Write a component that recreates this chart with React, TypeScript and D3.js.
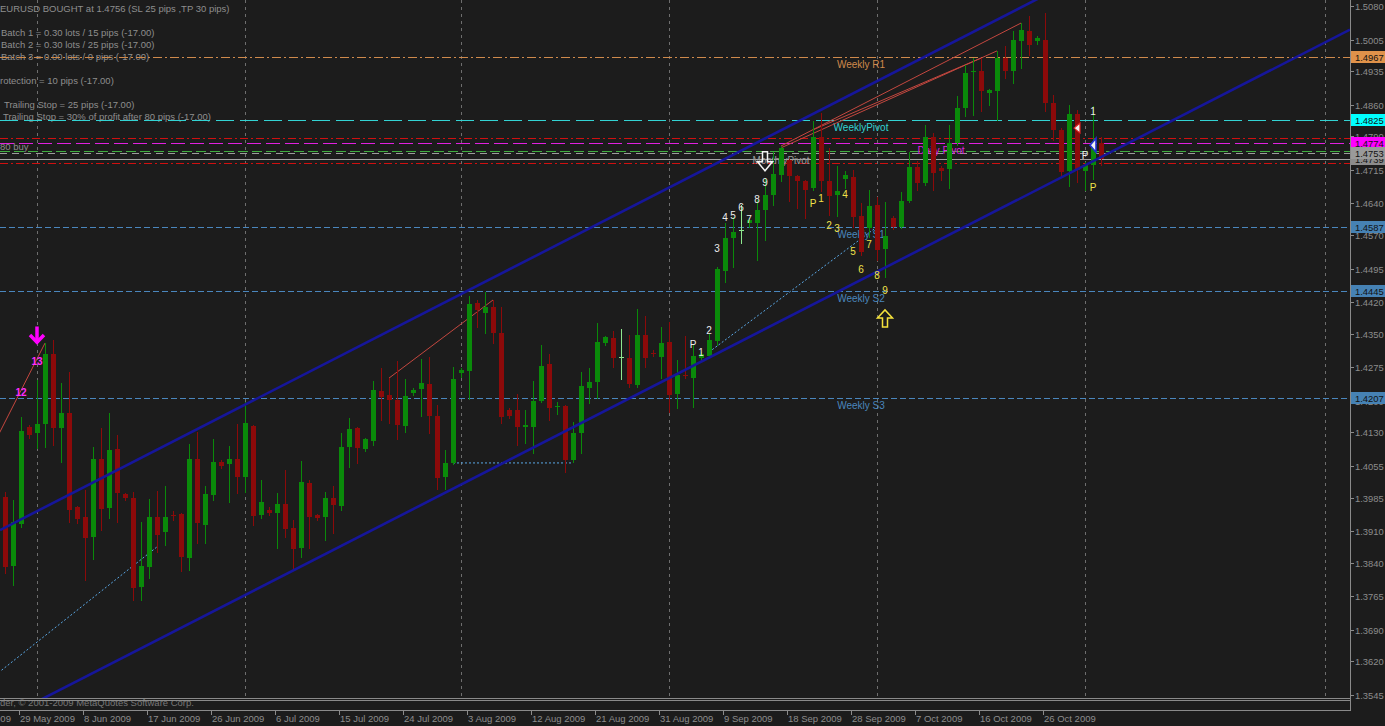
import React from "react";
import * as d3 from "d3";

// ---------- DATA ----------
const FIRST_BAR_DATE = "2009-05-27"; // bar 0 (Sunday bars included, Saturdays skipped)

const open = [
  1.3986, 1.3832, 1.3926, 1.4142, 1.4129, 1.4149, 1.4305, 1.4140, 1.4173, 1.3964,
  1.3942, 1.3897, 1.4071, 1.3962, 1.4093, 1.3993, 1.3984, 1.3786, 1.3830, 1.3942,
  1.3908, 1.3947, 1.3948, 1.3850, 1.4071, 1.3924, 1.3991, 1.4064, 1.4060, 1.4071,
  1.4031, 1.4144, 1.3946, 1.3957, 1.3950, 1.3970, 1.3917, 1.3872, 1.4017, 1.3946,
  1.3942, 1.3984, 1.3966, 1.4098, 1.4140, 1.4093, 1.4111, 1.4222, 1.4213, 1.4202,
  1.4144, 1.4218, 1.4227, 1.4238, 1.4167, 1.4031, 1.4062, 1.4262, 1.4267, 1.4418,
  1.4396, 1.4409, 1.4352, 1.4180, 1.4180, 1.4142, 1.4142, 1.4200, 1.4282, 1.4186,
  1.4189, 1.4068, 1.4129, 1.4229, 1.4242, 1.4329, 1.4340, 1.4297, 1.4296, 1.4236,
  1.4347, 1.4308, 1.4298, 1.4331, 1.4216, 1.4258, 1.4251, 1.4296, 1.4300, 1.4334,
  1.4490, 1.4563, 1.4578, 1.4597, 1.4597, 1.4626, 1.4659, 1.4704, 1.4737, 1.4702,
  1.4690, 1.4675, 1.4788, 1.4690, 1.4659, 1.4695, 1.4699, 1.4612, 1.4585, 1.4637,
  1.4539, 1.4608, 1.4588, 1.4646, 1.4721, 1.4686, 1.4788, 1.4719, 1.4717, 1.4775,
  1.4853, 1.4933, 1.4935, 1.4886, 1.4891, 1.4964, 1.4935, 1.5002, 1.5024, 1.5002,
  1.5004, 1.4864, 1.4804, 1.4712, 1.4839, 1.4712, 1.4726, 1.4775,
];
const high = [
  1.3997, 1.3979, 1.4164, 1.4147, 1.4247, 1.4329, 1.4336, 1.4240, 1.4265, 1.3966,
  1.4002, 1.4098, 1.4140, 1.4173, 1.4124, 1.3995, 1.3997, 1.3930, 1.3982, 1.3999,
  1.4011, 1.3955, 1.3950, 1.4104, 1.4131, 1.4011, 1.4115, 1.4068, 1.4100, 1.4149,
  1.4198, 1.4146, 1.4024, 1.3964, 1.3995, 1.4046, 1.3935, 1.4066, 1.4024, 1.3948,
  1.3997, 1.4011, 1.4129, 1.4162, 1.4142, 1.4118, 1.4245, 1.4274, 1.4251, 1.4289,
  1.4249, 1.4229, 1.4294, 1.4298, 1.4191, 1.4091, 1.4276, 1.4274, 1.4434, 1.4425,
  1.4443, 1.4425, 1.4409, 1.4184, 1.4216, 1.4180, 1.4245, 1.4325, 1.4305, 1.4198,
  1.4190, 1.4153, 1.4265, 1.4274, 1.4374, 1.4345, 1.4356, 1.4360, 1.4347, 1.4405,
  1.4389, 1.4314, 1.4365, 1.4376, 1.4291, 1.4345, 1.4325, 1.4309, 1.4349, 1.4499,
  1.4597, 1.4610, 1.4637, 1.4608, 1.4648, 1.4697, 1.4755, 1.4768, 1.4740, 1.4704,
  1.4692, 1.4824, 1.4842, 1.4764, 1.4724, 1.4712, 1.4715, 1.4641, 1.4670, 1.4654,
  1.4643, 1.4612, 1.4666, 1.4755, 1.4735, 1.4815, 1.4797, 1.4724, 1.4815, 1.4880,
  1.4949, 1.4964, 1.4964, 1.4895, 1.4980, 1.4991, 1.5024, 1.5042, 1.5058, 1.5013,
  1.5064, 1.4882, 1.4808, 1.4859, 1.4848, 1.4732, 1.4857, 1.4788,
];
const low = [
  1.3817, 1.3790, 1.3919, 1.4118, 1.4095, 1.4098, 1.4102, 1.4064, 1.3930, 1.3928,
  1.3801, 1.3848, 1.3913, 1.3939, 1.3930, 1.3979, 1.3757, 1.3757, 1.3806, 1.3864,
  1.3879, 1.3935, 1.3821, 1.3823, 1.3884, 1.3884, 1.3979, 1.4051, 1.3975, 1.3995,
  1.3997, 1.3924, 1.3939, 1.3946, 1.3872, 1.3897, 1.3828, 1.3852, 1.3872, 1.3935,
  1.3890, 1.3906, 1.3957, 1.4053, 1.4062, 1.4089, 1.4102, 1.4158, 1.4151, 1.4115,
  1.4131, 1.4213, 1.4167, 1.4129, 1.4004, 1.4004, 1.4060, 1.4253, 1.4204, 1.4365,
  1.4352, 1.4329, 1.4151, 1.4162, 1.4102, 1.4106, 1.4084, 1.4198, 1.4158, 1.4171,
  1.4042, 1.4064, 1.4084, 1.4196, 1.4207, 1.4325, 1.4276, 1.4249, 1.4231, 1.4231,
  1.4276, 1.4300, 1.4251, 1.4176, 1.4184, 1.4252, 1.4187, 1.4291, 1.4298, 1.4325,
  1.4465, 1.4499, 1.4552, 1.4588, 1.4514, 1.4559, 1.4637, 1.4690, 1.4646, 1.4630,
  1.4608, 1.4670, 1.4668, 1.4614, 1.4612, 1.4675, 1.4588, 1.4525, 1.4565, 1.4514,
  1.4476, 1.4583, 1.4585, 1.4643, 1.4670, 1.4681, 1.4670, 1.4692, 1.4675, 1.4770,
  1.4835, 1.4837, 1.4846, 1.4859, 1.4826, 1.4920, 1.4909, 1.4942, 1.4971, 1.4995,
  1.4846, 1.4782, 1.4699, 1.4679, 1.4688, 1.4670, 1.4695, 1.4726,
];
const close = [
  1.3830, 1.3930, 1.4133, 1.4124, 1.4149, 1.4305, 1.4140, 1.4173, 1.3957, 1.3937,
  1.3895, 1.4071, 1.3959, 1.4091, 1.3995, 1.3984, 1.3783, 1.3832, 1.3942, 1.3901,
  1.3942, 1.3945, 1.3852, 1.4071, 1.3928, 1.3993, 1.4064, 1.4055, 1.4071, 1.4031,
  1.4151, 1.3944, 1.3975, 1.3950, 1.3970, 1.3915, 1.3870, 1.4020, 1.3942, 1.3939,
  1.3984, 1.3968, 1.4098, 1.4138, 1.4095, 1.4115, 1.4224, 1.4209, 1.4202, 1.4147,
  1.4211, 1.4224, 1.4240, 1.4167, 1.4028, 1.4062, 1.4249, 1.4269, 1.4416, 1.4403,
  1.4409, 1.4352, 1.4164, 1.4167, 1.4142, 1.4147, 1.4200, 1.4278, 1.4184, 1.4188,
  1.4068, 1.4129, 1.4233, 1.4242, 1.4331, 1.4343, 1.4296, 1.4299, 1.4238, 1.4347,
  1.4296, 1.4306, 1.4329, 1.4213, 1.4258, 1.4255, 1.4300, 1.4305, 1.4336, 1.4494,
  1.4563, 1.4577, 1.4580, 1.4603, 1.4626, 1.4659, 1.4706, 1.4764, 1.4701, 1.4690,
  1.4670, 1.4788, 1.4690, 1.4657, 1.4668, 1.4704, 1.4610, 1.4532, 1.4634, 1.4536,
  1.4568, 1.4588, 1.4646, 1.4721, 1.4686, 1.4788, 1.4708, 1.4712, 1.4775, 1.4853,
  1.4931, 1.4935, 1.4891, 1.4893, 1.4964, 1.4935, 1.5004, 1.5027, 1.4993, 1.5009,
  1.4864, 1.4804, 1.4710, 1.4839, 1.4715, 1.4726, 1.4777, 1.4739,
];
const highlightedBars = [77, 92]; // doji bars drawn in light green

const priceTickLabels = [
  "1.5080", "1.5005", "1.4935", "1.4860", "1.4790", "1.4715", "1.4640", "1.4570",
  "1.4495", "1.4420", "1.4350", "1.4275", "1.4200", "1.4130", "1.4055", "1.3985",
  "1.3910", "1.3840", "1.3765", "1.3690", "1.3620", "1.3545",
];

// horizontal levels
const levelNames = ["Bid", "Weekly R1", "WeeklyPivot", "TP", "Daily Pivot", "Order", "MonthlyPivot", "SL", "Weekly S1", "Weekly S2", "Weekly S3"];
const levelPrices = [1.4739, 1.4967, 1.4825, 1.4786, 1.4774, 1.4756, 1.4753, 1.4731, 1.4587, 1.4445, 1.4207];
const levelColors = ["#a4a4a4", "#cf8a4c", "#33d3d3", "#d01010", "#e020e0", "#3fae3f", "#9c9c9c", "#d01010", "#4a86bd", "#4a86bd", "#4a86bd"];
const levelDash = ["", "9,3,2,3", "18,6", "8,3,2,3", "14,5", "10,4", "7,5", "8,3,2,3", "6,3", "6,3", "6,3"];
const levelBoxColors = ["#8c8c8c", "#e0924a", "#00ffff", "", "#ff00ff", "", "#9a9a9a", "", "#4682b4", "#4682b4", "#4682b4"];
const levelTextLabels = ["", "Weekly R1", "WeeklyPivot", "", "Daily Pivot", "", "MonthlyPivot", "", "Weekly S1", "Weekly S2", "Weekly S3"];
const levelTextBars = [0, 107, 107, 0, 117, 0, 97, 0, 107, 107, 107];

// channel & trend lines (bar, price) pairs
const channelUpper = [[0, 1.3918], [128, 1.5086]];
const channelLower = [[10, 1.3585], [109, 1.4488]];
const redTrendLines = [
  [[-2, 1.4083], [5, 1.4329]],
  [[48, 1.4251], [61, 1.4425]],
  [[97, 1.4768], [127, 1.5042]],
  [[97, 1.4764], [124, 1.4980]],
  [[101, 1.4804], [122, 1.4964]],
];
const dottedLines = [
  [[-2, 1.3578], [19, 1.3875]],
  [[56, 1.4062], [71, 1.4062]],
  [[88, 1.4309], [109, 1.4588]],
];

// sequence labels
const whiteSeqBars = [86, 87, 88, 89, 90, 91, 92, 93, 94, 95, 135, 136];
const whiteSeqText = ["P", "1", "2", "3", "4", "5", "6", "7", "8", "9", "P", "1"];
const whiteSeqPrices = [1.4325, 1.4307, 1.4357, 1.4539, 1.4608, 1.4614, 1.4630, 1.4605, 1.4650, 1.4686, 1.4746, 1.4844];
const yellowSeqBars = [101, 102, 103, 104, 105, 106, 107, 108, 109, 110, 136];
const yellowSeqText = ["P", "1", "2", "3", "4", "5", "6", "7", "8", "9", "P"];
const yellowSeqPrices = [1.4641, 1.4652, 1.4592, 1.4585, 1.4661, 1.4534, 1.4494, 1.4548, 1.4479, 1.4447, 1.4675];
const magentaBars = [4, 2];
const magentaText = ["13", "12"];
const magentaPrices = [1.4287, 1.4218];

const infoLines = [
  "EURUSD BOUGHT at 1.4756 (SL 25 pips ,TP 30 pips)",
  "",
  "Batch 1 = 0.30 lots / 15 pips (-17.00)",
  "Batch 2 = 0.30 lots / 25 pips (-17.00)",
  "Batch 3 = 0.00 lots / 0 pips (-17.00)",
  "",
  "rotection = 10 pips (-17.00)",
  "",
  "Trailing Stop = 25 pips (-17.00)",
  "Trailing Stop = 30% of profit after 80 pips (-17.00)",
];
const infoIndent = [0, 0, 1, 1, 1, 0, 0, 0, 4, 3];

// ---------- COMPONENT ----------
const W = 1385;
const H = 726;
const PLOT_R = 1350;
const PLOT_B = 699;
const FONT = "'Liberation Sans', Arial, sans-serif";

export default function App() {
  const x = d3.scaleLinear().domain([0, 137]).range([5, 1101]);
  const y = d3.scaleLinear().domain([1.3545, 1.508]).range([695, 6]);
  const px = (i: number) => Math.round(x(i));
  const py = (p: number) => Math.round(y(p));

  // bar dates
  const parse = d3.timeParse("%Y-%m-%d");
  const start = parse(FIRST_BAR_DATE) as Date;
  const allDays = d3.timeDay.range(d3.timeDay.offset(start, -10), d3.timeDay.offset(start, 200));
  const trading = allDays.filter((d) => d.getDay() !== 6);
  const idx0 = trading.findIndex((d) => +d === +start);
  const dateOf = (i: number) => trading[idx0 + i];
  const fmt = d3.timeFormat("%-d %b %Y");
  const labelBars: number[] = [];
  for (let i = -6; i <= open.length - 1; i += 8) labelBars.push(i);
  const monthBars: number[] = [];
  for (let i = 0; i < open.length; i++) {
    const d = dateOf(i), p = dateOf(i - 1);
    if (d.getMonth() !== p.getMonth()) monthBars.push(i);
  }

  const lineThrough = (pts: number[][], extend: boolean) => {
    const [[b1, p1], [b2, p2]] = pts;
    const x1 = x(b1), y1 = y(p1), x2 = x(b2), y2 = y(p2);
    if (!extend) return { x1, y1, x2, y2 };
    const k = (y2 - y1) / (x2 - x1);
    return { x1: 0, y1: y1 - k * x1, x2: PLOT_R, y2: y1 + k * (PLOT_R - x1) };
  };

  const bars = open.map((o, i) => ({ o, h: high[i], l: low[i], c: close[i], i }));

  const arrowDown = (cx: number, cy: number) =>
    `M${cx - 2.5},${cy - 10} L${cx + 2.5},${cy - 10} L${cx + 2.5},${cy} L${cx + 7.5},${cy} L${cx},${cy + 9} L${cx - 7.5},${cy} L${cx - 2.5},${cy} Z`;
  const arrowUp = (cx: number, cy: number) =>
    `M${cx - 2.5},${cy + 9} L${cx + 2.5},${cy + 9} L${cx + 2.5},${cy} L${cx + 7.5},${cy} L${cx},${cy - 8} L${cx - 7.5},${cy} L${cx - 2.5},${cy} Z`;

  return (
    <svg
      width={W}
      height={H}
      style={{ position: "absolute", left: 0, top: 0, display: "block" }}
      fontFamily={FONT}
    >
      <rect x={0} y={0} width={W} height={H} fill="#1c1c1c" />
      <defs>
        <clipPath id="plot">
          <rect x={0} y={0} width={PLOT_R} height={PLOT_B} />
        </clipPath>
      </defs>

      <g clipPath="url(#plot)">
        {/* month grid */}
        {monthBars.concat([165]).map((b) => (
          <line key={"g" + b} x1={px(b) + 0.5} x2={px(b) + 0.5} y1={0} y2={PLOT_B} stroke="#6e6e6e" strokeDasharray="3,4" />
        ))}

        {/* info text */}
        {infoLines.map((t, k) =>
          t ? (
            <text key={"info" + k} x={infoIndent[k]} y={12 + k * 12} fontSize={9.5} fill="#8e8e8e">
              {t}
            </text>
          ) : null
        )}
        <text x={0} y={150} fontSize={9.5} fill="#8e8e8e">80 buy</text>

        {/* levels */}
        {levelPrices.map((p, k) => (
          <line
            key={"lv" + k}
            x1={0}
            x2={PLOT_R}
            y1={py(p) + 0.5}
            y2={py(p) + 0.5}
            stroke={levelColors[k]}
            strokeWidth={1}
            strokeDasharray={levelDash[k] || undefined}
          />
        ))}
        {levelTextLabels.map((t, k) =>
          t ? (
            <text key={"lt" + k} x={x(levelTextBars[k])} y={py(levelPrices[k]) + 11} fontSize={10} textAnchor="middle" fill={levelColors[k]}>
              {t}
            </text>
          ) : null
        )}

        {/* dotted lines */}
        {dottedLines.map((pts, k) => {
          const l = lineThrough(pts, false);
          return <line key={"dl" + k} {...l} stroke="#5aa8e6" strokeWidth={1} strokeDasharray="2,2" />;
        })}

        {/* red trend lines */}
        {redTrendLines.map((pts, k) => {
          const l = lineThrough(pts, false);
          return <line key={"rt" + k} {...l} stroke="#c4473f" strokeWidth={1} />;
        })}

        {/* candles */}
        {bars.map((b) => {
          const cx = px(b.i);
          const bull = b.c >= b.o;
          const light = highlightedBars.includes(b.i);
          const col = light ? "#8ee88e" : bull ? "#0a8a0a" : "#8c0a0a";
          const top = py(Math.max(b.o, b.c));
          const bot = py(Math.min(b.o, b.c));
          return (
            <g key={"c" + b.i}>
              <line x1={cx + 0.5} x2={cx + 0.5} y1={py(b.h)} y2={py(b.l) + 1} stroke={col} />
              {light ? (
                <line x1={cx - 2} x2={cx + 3} y1={top + 0.5} y2={top + 0.5} stroke={col} />
              ) : (
                <rect x={cx - 2} y={top} width={5} height={Math.max(1, bot - top)} fill={col} />
              )}
            </g>
          );
        })}

        {/* channel */}
        {[channelUpper, channelLower].map((pts, k) => {
          const l = lineThrough(pts, true);
          return <line key={"ch" + k} {...l} stroke="#16169a" strokeWidth={2.6} />;
        })}

        {/* sequence labels */}
        {whiteSeqBars.map((b, k) => (
          <text key={"ws" + k} x={x(b)} y={y(whiteSeqPrices[k])} fontSize={10} textAnchor="middle" dominantBaseline="central" fill="#ececec">
            {whiteSeqText[k]}
          </text>
        ))}
        {yellowSeqBars.map((b, k) => (
          <text key={"ys" + k} x={x(b)} y={y(yellowSeqPrices[k])} fontSize={10} textAnchor="middle" dominantBaseline="central" fill="#f2e24a">
            {yellowSeqText[k]}
          </text>
        ))}
        {magentaBars.map((b, k) => (
          <text key={"mg" + k} x={x(b)} y={y(magentaPrices[k])} fontSize={10} fontWeight="bold" textAnchor="middle" dominantBaseline="central" fill="#ff2cff">
            {magentaText[k]}
          </text>
        ))}

        {/* arrows */}
        <g stroke="#ff00ff" strokeWidth={3.5} fill="none">
          <line x1={x(4)} x2={x(4)} y1={y(1.4366)} y2={y(1.4329)} />
          <polyline points={`${x(4) - 7},${y(1.4347)} ${x(4)},${y(1.4331)} ${x(4) + 7},${y(1.4347)}`} />
        </g>
        <path d={arrowDown(x(95), y(1.4733))} fill="none" stroke="#f4f4f4" strokeWidth={1.5} />
        <path d={arrowUp(x(110), y(1.4385))} fill="none" stroke="#f5e23c" strokeWidth={1.5} />
        <path
          d={`M${x(134) - 3},${y(1.4808)} L${x(134) + 3},${y(1.4808) - 5} L${x(134) + 3},${y(1.4808) + 5} Z`}
          fill="#f0f0f0"
          stroke="#e02020"
          strokeWidth={1.2}
        />
        <path
          d={`M${x(136) - 3},${y(1.477)} L${x(136) + 3},${y(1.477) - 7} L${x(136) + 3},${y(1.477) + 7} Z`}
          fill="#f0f0f0"
          stroke="#2030d0"
          strokeWidth={1.6}
        />
      </g>

      {/* copyright (left part hidden under the window edge) */}
      <text x={0} y={706} fontSize={9.5} fill="#777">
        der, © 2001-2009 MetaQuotes Software Corp.
      </text>

      {/* frame */}
      <line x1={PLOT_R + 0.5} x2={PLOT_R + 0.5} y1={0} y2={PLOT_B + 12} stroke="#8a8a8a" />
      <line x1={0} x2={PLOT_R} y1={PLOT_B - 0.5} y2={PLOT_B - 0.5} stroke="#8a8a8a" />
      <line x1={0} x2={PLOT_R} y1={PLOT_B + 1.5} y2={PLOT_B + 1.5} stroke="#8a8a8a" />
      <line x1={0} x2={PLOT_R} y1={PLOT_B + 11.5} y2={PLOT_B + 11.5} stroke="#8a8a8a" />

      {/* price axis */}
      {priceTickLabels.map((t) => (
        <g key={"pt" + t}>
          <line x1={PLOT_R + 1} x2={PLOT_R + 4} y1={py(+t) + 0.5} y2={py(+t) + 0.5} stroke="#8a8a8a" />
          <text x={PLOT_R + 5} y={py(+t)} fontSize={9.4} dominantBaseline="central" fill="#8c8c8c">
            {t}
          </text>
        </g>
      ))}
      {levelPrices.map((p, k) =>
        levelBoxColors[k] ? (
          <g key={"bx" + k}>
            <rect x={PLOT_R + 1} y={py(p) - 6} width={W - PLOT_R - 1} height={12} fill={levelBoxColors[k]} />
            <text x={PLOT_R + 5} y={py(p)} fontSize={9.4} dominantBaseline="central" fill="#111">
              {p.toFixed(4)}
            </text>
          </g>
        ) : null
      )}

      {/* time axis */}
      {labelBars.map((b) => (
        <g key={"tl" + b}>
          <line x1={px(b) - 1.5} x2={px(b) - 1.5} y1={PLOT_B + 12} y2={PLOT_B + 16} stroke="#8a8a8a" />
          <text x={px(b) - 1} y={PLOT_B + 23} fontSize={9.5} fill="#8c8c8c">
            {fmt(dateOf(b))}
          </text>
        </g>
      ))}
    </svg>
  );
}
